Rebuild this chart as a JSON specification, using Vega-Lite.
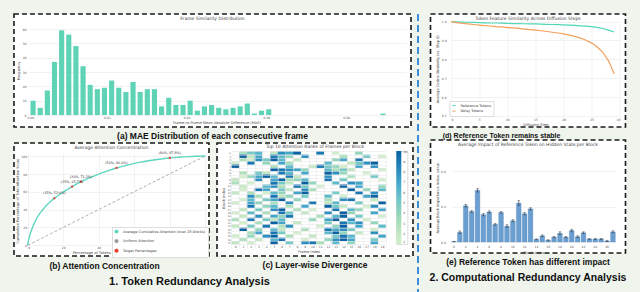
{
"$schema": "https://vega.github.io/schema/vega-lite/v6.json",
"background": "#eff4ec",
"padding": {"left": 13, "top": 13, "right": 13, "bottom": 2},
"config": {
  "font": "DejaVu Sans",
  "view": {"fill": "white", "stroke": "#1a1a1a", "strokeDash": [5, 3], "strokeWidth": 1.6},
  "axis": {"labelFontSize": 3, "titleFontSize": 3.6, "labelColor": "#555", "titleColor": "#444", "titleFontWeight": "normal", "gridColor": "#e4e4e4", "gridWidth": 0.5, "domain": false, "ticks": false, "labelPadding": 1, "titlePadding": 1.5},
  "title": {"font": "DejaVu Sans", "fontSize": 4.5, "fontWeight": "normal", "color": "#444", "offset": -6, "baseline": "middle"},
  "legend": {"labelFontSize": 3.5, "labelColor": "#444", "symbolSize": 10, "rowPadding": 0.6, "padding": 2, "fillColor": "white", "strokeColor": "#dddddd", "labelLimit": 200, "symbolStrokeWidth": 1}
},
"datasets": {
  "hist": [
    {"bin_start":0.00050,"bin_end":0.00229,"count":10},
    {"bin_start":0.00229,"bin_end":0.00408,"count":5},
    {"bin_start":0.00408,"bin_end":0.00587,"count":17},
    {"bin_start":0.00587,"bin_end":0.00766,"count":37},
    {"bin_start":0.00766,"bin_end":0.00945,"count":59},
    {"bin_start":0.00945,"bin_end":0.01124,"count":56},
    {"bin_start":0.01124,"bin_end":0.01303,"count":48},
    {"bin_start":0.01303,"bin_end":0.01482,"count":34},
    {"bin_start":0.01482,"bin_end":0.01661,"count":21},
    {"bin_start":0.01661,"bin_end":0.01840,"count":18},
    {"bin_start":0.01840,"bin_end":0.02019,"count":19},
    {"bin_start":0.02019,"bin_end":0.02198,"count":24},
    {"bin_start":0.02198,"bin_end":0.02377,"count":19},
    {"bin_start":0.02377,"bin_end":0.02556,"count":16},
    {"bin_start":0.02556,"bin_end":0.02735,"count":23},
    {"bin_start":0.02735,"bin_end":0.02914,"count":16},
    {"bin_start":0.02914,"bin_end":0.03093,"count":18},
    {"bin_start":0.03093,"bin_end":0.03272,"count":18},
    {"bin_start":0.03272,"bin_end":0.03451,"count":6},
    {"bin_start":0.03451,"bin_end":0.03630,"count":12},
    {"bin_start":0.03630,"bin_end":0.03809,"count":7},
    {"bin_start":0.03809,"bin_end":0.03988,"count":7},
    {"bin_start":0.03988,"bin_end":0.04167,"count":10},
    {"bin_start":0.04167,"bin_end":0.04346,"count":3},
    {"bin_start":0.04346,"bin_end":0.04525,"count":6},
    {"bin_start":0.04525,"bin_end":0.04704,"count":7},
    {"bin_start":0.04704,"bin_end":0.04883,"count":5},
    {"bin_start":0.04883,"bin_end":0.05062,"count":4},
    {"bin_start":0.05062,"bin_end":0.05241,"count":5},
    {"bin_start":0.05241,"bin_end":0.05420,"count":6},
    {"bin_start":0.05420,"bin_end":0.05599,"count":8},
    {"bin_start":0.05599,"bin_end":0.05778,"count":1},
    {"bin_start":0.05778,"bin_end":0.05957,"count":3},
    {"bin_start":0.05957,"bin_end":0.06136,"count":4},
    {"bin_start":0.08821,"bin_end":0.09000,"count":1}
  ],
  "uniform": [{"pct":0,"cum":0},{"pct":100,"cum":100}],
  "curve": [
    {"pct":0,"cum":0},{"pct":0.5,"cum":6},{"pct":1,"cum":10},{"pct":2,"cum":16},{"pct":3,"cum":21.5},{"pct":4,"cum":26},{"pct":5,"cum":30},{"pct":7.5,"cum":37.5},{"pct":10,"cum":43.5},{"pct":12.5,"cum":48.5},{"pct":15,"cum":52.6},{"pct":20,"cum":59.5},{"pct":25,"cum":65.7},{"pct":30,"cum":71.2},{"pct":35,"cum":75.8},{"pct":40,"cum":79.8},{"pct":45,"cum":83.4},{"pct":50,"cum":86.6},{"pct":55,"cum":89.3},{"pct":60,"cum":91.7},{"pct":65,"cum":93.6},{"pct":70,"cum":95.3},{"pct":75,"cum":96.6},{"pct":80,"cum":97.8},{"pct":85,"cum":98.6},{"pct":90,"cum":99.3},{"pct":95,"cum":99.8},{"pct":100,"cum":100}
  ],
  "targets": [
    {"pct":15,"cum":52.6,"label":"(15%, 52.6%)"},
    {"pct":25,"cum":65.7,"label":"(25%, 65.7%)"},
    {"pct":30,"cum":71.2,"label":"(30%, 71.2%)"},
    {"pct":50,"cum":86.6,"label":"(50%, 86.6%)"},
    {"pct":80,"cum":97.8,"label":"(80%, 97.8%)"}
  ],
  "heat": [
    {"block":0,"frame":1,"rank":3},{"block":0,"frame":2,"rank":5},{"block":0,"frame":3,"rank":6},{"block":0,"frame":5,"rank":2},{"block":0,"frame":6,"rank":8},{"block":0,"frame":7,"rank":7},{"block":0,"frame":8,"rank":10},{"block":0,"frame":11,"rank":9},{"block":0,"frame":13,"rank":1},{"block":0,"frame":16,"rank":4},
    {"block":1,"frame":1,"rank":10},{"block":1,"frame":2,"rank":2},{"block":1,"frame":3,"rank":7},{"block":1,"frame":5,"rank":9},{"block":1,"frame":6,"rank":6},{"block":1,"frame":7,"rank":4},{"block":1,"frame":9,"rank":8},{"block":1,"frame":14,"rank":3},{"block":1,"frame":17,"rank":5},{"block":1,"frame":19,"rank":1},
    {"block":2,"frame":1,"rank":3},{"block":2,"frame":2,"rank":1},{"block":2,"frame":3,"rank":8},{"block":2,"frame":4,"rank":5},{"block":2,"frame":5,"rank":10},{"block":2,"frame":6,"rank":6},{"block":2,"frame":8,"rank":2},{"block":2,"frame":13,"rank":4},{"block":2,"frame":14,"rank":7},{"block":2,"frame":16,"rank":9},
    {"block":3,"frame":0,"rank":1},{"block":3,"frame":2,"rank":9},{"block":3,"frame":4,"rank":4},{"block":3,"frame":6,"rank":7},{"block":3,"frame":7,"rank":3},{"block":3,"frame":12,"rank":6},{"block":3,"frame":15,"rank":2},{"block":3,"frame":16,"rank":5},{"block":3,"frame":17,"rank":8},{"block":3,"frame":18,"rank":10},
    {"block":4,"frame":0,"rank":10},{"block":4,"frame":5,"rank":3},{"block":4,"frame":7,"rank":6},{"block":4,"frame":10,"rank":2},{"block":4,"frame":11,"rank":9},{"block":4,"frame":12,"rank":5},{"block":4,"frame":13,"rank":4},{"block":4,"frame":14,"rank":1},{"block":4,"frame":16,"rank":7},{"block":4,"frame":18,"rank":8},
    {"block":5,"frame":5,"rank":10},{"block":5,"frame":6,"rank":9},{"block":5,"frame":7,"rank":8},{"block":5,"frame":8,"rank":7},{"block":5,"frame":9,"rank":4},{"block":5,"frame":12,"rank":6},{"block":5,"frame":13,"rank":3},{"block":5,"frame":14,"rank":5},{"block":5,"frame":15,"rank":2},{"block":5,"frame":19,"rank":1},
    {"block":6,"frame":1,"rank":3},{"block":6,"frame":3,"rank":5},{"block":6,"frame":4,"rank":2},{"block":6,"frame":6,"rank":9},{"block":6,"frame":7,"rank":6},{"block":6,"frame":9,"rank":7},{"block":6,"frame":12,"rank":10},{"block":6,"frame":13,"rank":8},{"block":6,"frame":14,"rank":4},{"block":6,"frame":17,"rank":1},
    {"block":7,"frame":1,"rank":1},{"block":7,"frame":2,"rank":4},{"block":7,"frame":3,"rank":7},{"block":7,"frame":4,"rank":10},{"block":7,"frame":5,"rank":6},{"block":7,"frame":7,"rank":9},{"block":7,"frame":8,"rank":2},{"block":7,"frame":12,"rank":8},{"block":7,"frame":15,"rank":3},{"block":7,"frame":18,"rank":5},
    {"block":8,"frame":0,"rank":2},{"block":8,"frame":3,"rank":8},{"block":8,"frame":5,"rank":7},{"block":8,"frame":6,"rank":10},{"block":8,"frame":7,"rank":3},{"block":8,"frame":8,"rank":4},{"block":8,"frame":9,"rank":6},{"block":8,"frame":12,"rank":9},{"block":8,"frame":14,"rank":5},{"block":8,"frame":19,"rank":1},
    {"block":9,"frame":0,"rank":3},{"block":9,"frame":2,"rank":1},{"block":9,"frame":5,"rank":9},{"block":9,"frame":6,"rank":5},{"block":9,"frame":7,"rank":2},{"block":9,"frame":9,"rank":10},{"block":9,"frame":10,"rank":4},{"block":9,"frame":13,"rank":6},{"block":9,"frame":15,"rank":8},{"block":9,"frame":16,"rank":7},
    {"block":10,"frame":1,"rank":2},{"block":10,"frame":4,"rank":6},{"block":10,"frame":5,"rank":8},{"block":10,"frame":6,"rank":3},{"block":10,"frame":8,"rank":9},{"block":10,"frame":9,"rank":5},{"block":10,"frame":11,"rank":1},{"block":10,"frame":14,"rank":10},{"block":10,"frame":16,"rank":7},{"block":10,"frame":19,"rank":4},
    {"block":11,"frame":1,"rank":1},{"block":11,"frame":3,"rank":9},{"block":11,"frame":4,"rank":7},{"block":11,"frame":6,"rank":5},{"block":11,"frame":7,"rank":2},{"block":11,"frame":9,"rank":8},{"block":11,"frame":10,"rank":3},{"block":11,"frame":15,"rank":10},{"block":11,"frame":17,"rank":4},{"block":11,"frame":19,"rank":6},
    {"block":12,"frame":0,"rank":2},{"block":12,"frame":2,"rank":3},{"block":12,"frame":4,"rank":1},{"block":12,"frame":5,"rank":6},{"block":12,"frame":6,"rank":4},{"block":12,"frame":8,"rank":7},{"block":12,"frame":9,"rank":10},{"block":12,"frame":13,"rank":5},{"block":12,"frame":16,"rank":9},{"block":12,"frame":18,"rank":8},
    {"block":13,"frame":2,"rank":8},{"block":13,"frame":3,"rank":3},{"block":13,"frame":5,"rank":9},{"block":13,"frame":6,"rank":2},{"block":13,"frame":7,"rank":4},{"block":13,"frame":9,"rank":5},{"block":13,"frame":12,"rank":6},{"block":13,"frame":14,"rank":1},{"block":13,"frame":17,"rank":7},{"block":13,"frame":18,"rank":10},
    {"block":14,"frame":1,"rank":1},{"block":14,"frame":2,"rank":6},{"block":14,"frame":4,"rank":5},{"block":14,"frame":5,"rank":7},{"block":14,"frame":6,"rank":10},{"block":14,"frame":8,"rank":4},{"block":14,"frame":12,"rank":3},{"block":14,"frame":14,"rank":8},{"block":14,"frame":15,"rank":9},{"block":14,"frame":18,"rank":2},
    {"block":15,"frame":0,"rank":1},{"block":15,"frame":2,"rank":7},{"block":15,"frame":3,"rank":4},{"block":15,"frame":5,"rank":3},{"block":15,"frame":7,"rank":8},{"block":15,"frame":10,"rank":9},{"block":15,"frame":12,"rank":2},{"block":15,"frame":13,"rank":6},{"block":15,"frame":16,"rank":5},{"block":15,"frame":19,"rank":10},
    {"block":16,"frame":2,"rank":9},{"block":16,"frame":4,"rank":4},{"block":16,"frame":5,"rank":6},{"block":16,"frame":7,"rank":3},{"block":16,"frame":9,"rank":7},{"block":16,"frame":12,"rank":10},{"block":16,"frame":13,"rank":5},{"block":16,"frame":14,"rank":2},{"block":16,"frame":17,"rank":1},{"block":16,"frame":18,"rank":8},
    {"block":17,"frame":1,"rank":2},{"block":17,"frame":3,"rank":5},{"block":17,"frame":5,"rank":8},{"block":17,"frame":6,"rank":10},{"block":17,"frame":8,"rank":3},{"block":17,"frame":10,"rank":1},{"block":17,"frame":13,"rank":9},{"block":17,"frame":15,"rank":6},{"block":17,"frame":16,"rank":4},{"block":17,"frame":19,"rank":7},
    {"block":18,"frame":0,"rank":1},{"block":18,"frame":2,"rank":6},{"block":18,"frame":4,"rank":3},{"block":18,"frame":6,"rank":9},{"block":18,"frame":7,"rank":5},{"block":18,"frame":9,"rank":2},{"block":18,"frame":12,"rank":8},{"block":18,"frame":14,"rank":10},{"block":18,"frame":15,"rank":4},{"block":18,"frame":18,"rank":7},
    {"block":19,"frame":1,"rank":2},{"block":19,"frame":3,"rank":8},{"block":19,"frame":5,"rank":7},{"block":19,"frame":6,"rank":4},{"block":19,"frame":7,"rank":9},{"block":19,"frame":11,"rank":3},{"block":19,"frame":13,"rank":6},{"block":19,"frame":14,"rank":10},{"block":19,"frame":16,"rank":5},{"block":19,"frame":19,"rank":1},
    {"block":20,"frame":0,"rank":3},{"block":20,"frame":2,"rank":9},{"block":20,"frame":4,"rank":5},{"block":20,"frame":5,"rank":2},{"block":20,"frame":6,"rank":6},{"block":20,"frame":10,"rank":4},{"block":20,"frame":12,"rank":7},{"block":20,"frame":13,"rank":10},{"block":20,"frame":15,"rank":8},{"block":20,"frame":17,"rank":1},
    {"block":21,"frame":1,"rank":1},{"block":21,"frame":3,"rank":3},{"block":21,"frame":5,"rank":10},{"block":21,"frame":6,"rank":7},{"block":21,"frame":8,"rank":2},{"block":21,"frame":12,"rank":5},{"block":21,"frame":14,"rank":9},{"block":21,"frame":15,"rank":6},{"block":21,"frame":16,"rank":8},{"block":21,"frame":18,"rank":4},
    {"block":22,"frame":0,"rank":2},{"block":22,"frame":2,"rank":5},{"block":22,"frame":4,"rank":9},{"block":22,"frame":6,"rank":3},{"block":22,"frame":7,"rank":8},{"block":22,"frame":11,"rank":1},{"block":22,"frame":13,"rank":4},{"block":22,"frame":14,"rank":10},{"block":22,"frame":16,"rank":7},{"block":22,"frame":19,"rank":6},
    {"block":23,"frame":1,"rank":10},{"block":23,"frame":3,"rank":4},{"block":23,"frame":5,"rank":6},{"block":23,"frame":6,"rank":2},{"block":23,"frame":9,"rank":3},{"block":23,"frame":12,"rank":9},{"block":23,"frame":13,"rank":7},{"block":23,"frame":14,"rank":8},{"block":23,"frame":15,"rank":5},{"block":23,"frame":18,"rank":1},
    {"block":24,"frame":2,"rank":3},{"block":24,"frame":3,"rank":7},{"block":24,"frame":5,"rank":9},{"block":24,"frame":6,"rank":5},{"block":24,"frame":8,"rank":1},{"block":24,"frame":12,"rank":6},{"block":24,"frame":13,"rank":10},{"block":24,"frame":14,"rank":4},{"block":24,"frame":16,"rank":2},{"block":24,"frame":18,"rank":8},
    {"block":25,"frame":0,"rank":1},{"block":25,"frame":2,"rank":4},{"block":25,"frame":4,"rank":8},{"block":25,"frame":5,"rank":10},{"block":25,"frame":7,"rank":3},{"block":25,"frame":10,"rank":2},{"block":25,"frame":13,"rank":5},{"block":25,"frame":14,"rank":9},{"block":25,"frame":15,"rank":6},{"block":25,"frame":19,"rank":7},
    {"block":26,"frame":1,"rank":3},{"block":26,"frame":3,"rank":2},{"block":26,"frame":5,"rank":6},{"block":26,"frame":6,"rank":9},{"block":26,"frame":9,"rank":1},{"block":26,"frame":12,"rank":4},{"block":26,"frame":13,"rank":8},{"block":26,"frame":14,"rank":10},{"block":26,"frame":15,"rank":7},{"block":26,"frame":18,"rank":5},
    {"block":27,"frame":0,"rank":2},{"block":27,"frame":2,"rank":1},{"block":27,"frame":5,"rank":10},{"block":27,"frame":7,"rank":5},{"block":27,"frame":9,"rank":8},{"block":27,"frame":10,"rank":9},{"block":27,"frame":11,"rank":3},{"block":27,"frame":13,"rank":6},{"block":27,"frame":15,"rank":4},{"block":27,"frame":18,"rank":7}
  ],
  "diff": [
    {"step":0,"series":"Reference Tokens","sim":1.000},{"step":1,"series":"Reference Tokens","sim":0.999},{"step":2,"series":"Reference Tokens","sim":0.998},{"step":3,"series":"Reference Tokens","sim":0.997},{"step":4,"series":"Reference Tokens","sim":0.996},{"step":5,"series":"Reference Tokens","sim":0.995},{"step":6,"series":"Reference Tokens","sim":0.994},{"step":7,"series":"Reference Tokens","sim":0.993},{"step":8,"series":"Reference Tokens","sim":0.993},{"step":9,"series":"Reference Tokens","sim":0.992},{"step":10,"series":"Reference Tokens","sim":0.991},{"step":11,"series":"Reference Tokens","sim":0.990},{"step":12,"series":"Reference Tokens","sim":0.990},{"step":13,"series":"Reference Tokens","sim":0.989},{"step":14,"series":"Reference Tokens","sim":0.988},{"step":15,"series":"Reference Tokens","sim":0.988},{"step":16,"series":"Reference Tokens","sim":0.987},{"step":17,"series":"Reference Tokens","sim":0.986},{"step":18,"series":"Reference Tokens","sim":0.985},{"step":19,"series":"Reference Tokens","sim":0.984},{"step":20,"series":"Reference Tokens","sim":0.983},{"step":21,"series":"Reference Tokens","sim":0.982},{"step":22,"series":"Reference Tokens","sim":0.980},{"step":23,"series":"Reference Tokens","sim":0.978},{"step":24,"series":"Reference Tokens","sim":0.976},{"step":25,"series":"Reference Tokens","sim":0.974},{"step":26,"series":"Reference Tokens","sim":0.970},{"step":27,"series":"Reference Tokens","sim":0.964},{"step":28,"series":"Reference Tokens","sim":0.955},{"step":29,"series":"Reference Tokens","sim":0.945},
    {"step":0,"series":"Noisy Tokens","sim":1.000},{"step":1,"series":"Noisy Tokens","sim":0.995},{"step":2,"series":"Noisy Tokens","sim":0.991},{"step":3,"series":"Noisy Tokens","sim":0.988},{"step":4,"series":"Noisy Tokens","sim":0.985},{"step":5,"series":"Noisy Tokens","sim":0.982},{"step":6,"series":"Noisy Tokens","sim":0.979},{"step":7,"series":"Noisy Tokens","sim":0.977},{"step":8,"series":"Noisy Tokens","sim":0.974},{"step":9,"series":"Noisy Tokens","sim":0.972},{"step":10,"series":"Noisy Tokens","sim":0.969},{"step":11,"series":"Noisy Tokens","sim":0.967},{"step":12,"series":"Noisy Tokens","sim":0.964},{"step":13,"series":"Noisy Tokens","sim":0.961},{"step":14,"series":"Noisy Tokens","sim":0.958},{"step":15,"series":"Noisy Tokens","sim":0.955},{"step":16,"series":"Noisy Tokens","sim":0.952},{"step":17,"series":"Noisy Tokens","sim":0.948},{"step":18,"series":"Noisy Tokens","sim":0.944},{"step":19,"series":"Noisy Tokens","sim":0.940},{"step":20,"series":"Noisy Tokens","sim":0.935},{"step":21,"series":"Noisy Tokens","sim":0.929},{"step":22,"series":"Noisy Tokens","sim":0.922},{"step":23,"series":"Noisy Tokens","sim":0.913},{"step":24,"series":"Noisy Tokens","sim":0.901},{"step":25,"series":"Noisy Tokens","sim":0.886},{"step":26,"series":"Noisy Tokens","sim":0.865},{"step":27,"series":"Noisy Tokens","sim":0.836},{"step":28,"series":"Noisy Tokens","sim":0.792},{"step":29,"series":"Noisy Tokens","sim":0.722}
  ],
  "impact": [
    {"block":0,"value":0.005,"err":0.003},{"block":1,"value":0.11,"err":0.015},{"block":2,"value":0.41,"err":0.015},{"block":3,"value":0.345,"err":0.012},{"block":4,"value":0.585,"err":0.02},{"block":5,"value":0.31,"err":0.015},{"block":6,"value":0.34,"err":0.012},{"block":7,"value":0.2,"err":0.01},{"block":8,"value":0.335,"err":0.01},{"block":9,"value":0.18,"err":0.015},{"block":10,"value":0.24,"err":0.012},{"block":11,"value":0.44,"err":0.03},{"block":12,"value":0.32,"err":0.015},{"block":13,"value":0.375,"err":0.012},{"block":14,"value":0.03,"err":0.005},{"block":15,"value":0.07,"err":0.01},{"block":16,"value":0.02,"err":0.005},{"block":17,"value":0.055,"err":0.008},{"block":18,"value":0.1,"err":0.015},{"block":19,"value":0.055,"err":0.008},{"block":20,"value":0.13,"err":0.015},{"block":21,"value":0.06,"err":0.01},{"block":22,"value":0.105,"err":0.01},{"block":23,"value":0.035,"err":0.005},{"block":24,"value":0.035,"err":0.005},{"block":25,"value":0.035,"err":0.006},{"block":26,"value":0.012,"err":0.004},{"block":27,"value":0.115,"err":0.012}
  ]
},
"spacing": 3,
"hconcat": [
  {
    "spacing": 0,
    "title": {"text": "1. Token Redundancy Analysis", "orient": "bottom", "anchor": "middle", "font": "Liberation Sans", "fontSize": 11, "fontWeight": "bold", "color": "#111", "offset": 6, "baseline": "top", "dx": -24},
    "vconcat": [
      {
        "title": {"text": "(a) MAE Distribution of each consecutive frame", "orient": "bottom", "anchor": "middle", "font": "Liberation Sans", "fontSize": 8.5, "fontWeight": "bold", "color": "#111", "offset": 4, "baseline": "top"},
        "vconcat": [
          {
            "width": 397, "height": 113,
            "title": {"text": "Frame Similarity Distribution"},
            "data": {"name": "hist"},
            "mark": {"type": "bar", "color": "#5ed3b6", "binSpacing": 2},
            "encoding": {
              "x": {"field": "bin_start", "type": "quantitative", "bin": "binned", "scale": {"domain": [0, 0.095], "range": [13, 392], "nice": false}, "axis": {"title": "Frame-to-Frame Mean Absolute Difference (MAE)", "values": [0, 0.02, 0.04, 0.06, 0.08], "format": ".2f", "offset": -12}},
              "x2": {"field": "bin_end"},
              "y": {"field": "count", "type": "quantitative", "scale": {"domain": [0, 62], "range": [101, 12], "nice": false}, "axis": {"title": "Frequency", "values": [0, 10, 20, 30, 40, 50, 60], "offset": -13}}
            }
          }
        ]
      },
      {
        "spacing": 6,
        "hconcat": [
          {
            "title": {"text": "(b) Attention Concentration", "orient": "bottom", "anchor": "middle", "font": "Liberation Sans", "fontSize": 8.5, "fontWeight": "bold", "color": "#111", "offset": 4, "baseline": "top", "dx": -7},
            "vconcat": [
              {
                "width": 195, "height": 113,
                "title": {"text": "Average Attention Concentration"},
                "encoding": {
                  "x": {"field": "pct", "type": "quantitative", "scale": {"domain": [0, 100], "range": [13.7, 191.3], "nice": false}, "axis": {"title": "Percentage of Tokens (Sorted by Attention Score)", "values": [0, 20, 40, 60, 80, 100], "offset": -10.7}},
                  "y": {"field": "cum", "type": "quantitative", "scale": {"domain": [0, 100], "range": [102.3, 13], "nice": false}, "axis": {"title": "Cumulative Percentage of Total Attention Score", "values": [0, 20, 40, 60, 80, 100], "offset": -13.7}}
                },
                "layer": [
                  {
                    "data": {"name": "uniform"},
                    "mark": {"type": "line", "strokeDash": [3, 2], "strokeWidth": 0.8},
                    "encoding": {"color": {"datum": "Uniform Attention", "type": "nominal", "scale": {"domain": ["Average Cumulative Attention (over 28 blocks)", "Uniform Attention", "Target Percentages"], "range": ["#5fd6c0", "#9a9a9a", "#e8392c"]}, "legend": {"orient": "none", "legendX": 98, "legendY": 84, "title": null}}}
                  },
                  {
                    "data": {"name": "curve"},
                    "mark": {"type": "line", "strokeWidth": 1.4, "interpolate": "monotone"},
                    "encoding": {"color": {"datum": "Average Cumulative Attention (over 28 blocks)", "type": "nominal"}}
                  },
                  {
                    "data": {"name": "targets"},
                    "mark": {"type": "point", "filled": true, "size": 5, "opacity": 1},
                    "encoding": {"color": {"datum": "Target Percentages", "type": "nominal"}}
                  },
                  {
                    "data": {"name": "targets"},
                    "mark": {"type": "text", "fontSize": 3.3, "color": "#333", "dy": -3, "baseline": "bottom"},
                    "encoding": {"text": {"field": "label"}}
                  }
                ]
              }
            ]
          },
          {
            "title": {"text": "(c) Layer-wise Divergence", "orient": "bottom", "anchor": "middle", "font": "Liberation Sans", "fontSize": 8.5, "fontWeight": "bold", "color": "#111", "offset": 4, "baseline": "top"},
            "vconcat": [
              {
                "width": 196, "height": 113,
                "title": {"text": "Top 10 Attention Ranks of Frames per Block"},
                "data": {"name": "heat"},
                "mark": {"type": "rect"},
                "encoding": {
                  "x": {"field": "frame", "type": "ordinal", "scale": {"domain": [0,1,2,3,4,5,6,7,8,9,10,11,12,13,14,15,16,17,18,19], "range": [14.4, 168.8], "paddingInner": 0, "paddingOuter": 0}, "axis": {"title": "Frame Index", "labelAngle": 0, "offset": -11.7, "grid": true, "tickBand": "extent"}},
                  "y": {"field": "block", "type": "ordinal", "scale": {"domain": [0,1,2,3,4,5,6,7,8,9,10,11,12,13,14,15,16,17,18,19,20,21,22,23,24,25,26,27], "range": [8.3, 101.3], "paddingInner": 0, "paddingOuter": 0}, "axis": {"title": "Block Index", "offset": -14.4, "grid": true, "tickBand": "extent", "labelOverlap": false, "labelFontSize": 2.4}},
                  "color": {"field": "rank", "type": "quantitative", "scale": {"scheme": "greenblue", "domain": [1, 10]}, "legend": {"orient": "none", "legendX": 179.3, "legendY": 8, "direction": "vertical", "gradientLength": 93, "gradientThickness": 5, "title": null, "values": [1,2,3,4,5,6,7,8,9,10], "fillColor": null, "strokeColor": null, "padding": 0, "labelFontSize": 3}}
                }
              }
            ]
          }
        ]
      }
    ]
  },
  {
    "spacing": 9.5,
    "hconcat": [
      {
        "width": 2, "height": 279,
        "view": {"stroke": null, "fill": null},
        "data": {"values": [{"v": 0}]},
        "mark": {"type": "rule", "color": "#3d8bd9", "strokeDash": [7, 4], "strokeWidth": 2},
        "encoding": {"x": {"datum": 0.5, "type": "quantitative", "scale": {"domain": [0, 1]}, "axis": null}}
      },
      {
        "spacing": 0,
        "title": {"text": "2. Computational Redundancy Analysis", "orient": "bottom", "anchor": "middle", "font": "Liberation Sans", "fontSize": 10.5, "fontWeight": "bold", "color": "#111", "offset": 6, "baseline": "top"},
        "vconcat": [
          {
            "title": {"text": "(d) Reference Token remains stable", "orient": "bottom", "anchor": "start", "dx": 13, "font": "Liberation Sans", "fontSize": 7, "fontWeight": "bold", "color": "#111", "offset": 4, "baseline": "top"},
            "vconcat": [
              {
                "width": 195, "height": 113,
                "title": {"text": "Token Feature Similarity Across Diffusion Steps"},
                "data": {"name": "diff"},
                "mark": {"type": "line", "strokeWidth": 1.2},
                "encoding": {
                  "x": {"field": "step", "type": "quantitative", "scale": {"domain": [0, 30], "range": [20.6, 189.3], "nice": false}, "axis": {"title": "Diffusion Step", "values": [0, 5, 10, 15, 20, 25, 30], "offset": -10}},
                  "y": {"field": "sim", "type": "quantitative", "scale": {"domain": [0.5, 1.0], "range": [101.7, 7.7], "nice": false, "zero": false}, "axis": {"title": "Average Cosine Similarity (vs. Step 0)", "values": [0.5, 0.6, 0.7, 0.8, 0.9, 1.0], "format": ".1f", "offset": -16.6}},
                  "color": {"field": "series", "type": "nominal", "scale": {"domain": ["Reference Tokens", "Noisy Tokens"], "range": ["#4fd6b6", "#f4a05a"]}, "legend": {"orient": "none", "legendX": 435.5, "legendY": 87, "title": null}}
                }
              }
            ]
          },
          {
            "title": {"text": "(e) Reference Token has different impact", "orient": "bottom", "anchor": "middle", "font": "Liberation Sans", "fontSize": 8.5, "fontWeight": "bold", "color": "#111", "offset": 4, "baseline": "top"},
            "vconcat": [
              {
                "width": 195, "height": 113,
                "title": {"text": "Average Impact of Reference Token on Hidden State per Block"},
                "data": {"name": "impact"},
                "encoding": {
                  "x": {"field": "block", "type": "ordinal", "scale": {"domain": [0,1,2,3,4,5,6,7,8,9,10,11,12,13,14,15,16,17,18,19,20,21,22,23,24,25,26,27], "range": [21.1, 184.8], "paddingInner": 0.2, "paddingOuter": 0}, "axis": {"title": "Block Index", "values": [0,2,4,6,8,10,12,14,16,18,20,22,24,26], "labelAngle": 0, "offset": -8.5, "grid": false}}
                },
                "layer": [
                  {
                    "mark": {"type": "bar", "color": "#6b9fd1", "stroke": "#4a7fb3", "strokeWidth": 0.3},
                    "encoding": {"y": {"field": "value", "type": "quantitative", "scale": {"domain": [0, 1], "range": [102, 13.6], "nice": false}, "axis": {"title": "Average Block Importance Index", "values": [0, 0.2, 0.4, 0.6, 0.8, 1.0], "format": ".1f", "offset": -15.8}}}
                  },
                  {
                    "mark": {"type": "errorbar", "ticks": {"size": 2.5}, "color": "#333", "thickness": 0.6},
                    "encoding": {"y": {"field": "value", "type": "quantitative"}, "yError": {"field": "err"}}
                  }
                ]
              }
            ]
          }
        ]
      }
    ]
  }
]
}
